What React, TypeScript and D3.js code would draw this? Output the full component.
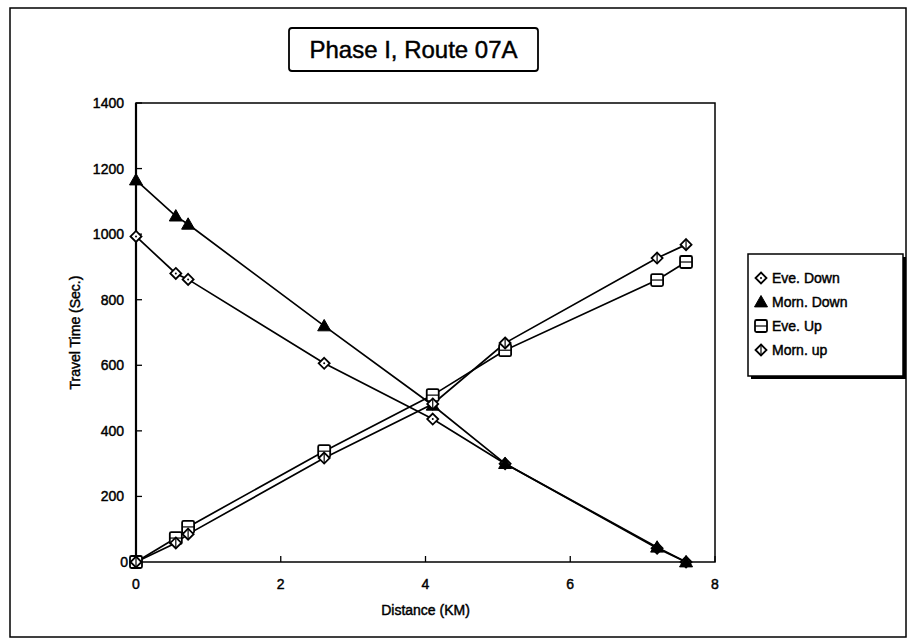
import React from "react";
import * as d3 from "d3";

const distances = [0, 0.55, 0.72, 2.6, 4.1, 5.1, 7.2, 7.6];
const eveDown = [993, 880, 862, 606, 436, 300, 42, 0];
const mornDown = [1165, 1055, 1030, 720, 478, 300, 45, 0];
const eveUp = [0, 73, 107, 338, 509, 646, 860, 915];
const mornUp = [0, 58, 85, 317, 482, 668, 927, 968];
const seriesNames = ["Eve. Down", "Morn. Down", "Eve. Up", "Morn. up"];
const xTicks = [0, 2, 4, 6, 8];
const yTicks = [0, 200, 400, 600, 800, 1000, 1200, 1400];
const title = "Phase I, Route 07A";
const xLabel = "Distance (KM)";
const yLabel = "Travel Time (Sec.)";

const W = 911;
const H = 642;
const plot = { left: 136, right: 715, top: 103, bottom: 562 };
const font = "'Liberation Sans', Arial, sans-serif";
const heavy = { stroke: "black", strokeWidth: 0.45 };

function Marker({ kind, x, y }: { kind: number; x: number; y: number }) {
  const s = 5.5;
  if (kind === 0) {
    return (
      <g>
        <path d={`M${x},${y - s}L${x + s},${y}L${x},${y + s}L${x - s},${y}Z`} fill="white" stroke="black" strokeWidth={1.8} />
        <circle cx={x} cy={y} r={1} fill="black" />
      </g>
    );
  }
  if (kind === 1) {
    const t = 6.5;
    return <path d={`M${x},${y - t}L${x + t},${y + t * 0.75}L${x - t},${y + t * 0.75}Z`} fill="black" stroke="black" strokeWidth={1} />;
  }
  if (kind === 2) {
    return (
      <g>
        <rect x={x - 6} y={y - 6} width={12} height={12} rx={1.5} fill="white" stroke="black" strokeWidth={1.8} />
        <line x1={x - 6} x2={x + 6} y1={y} y2={y} stroke="black" strokeWidth={1.2} />
      </g>
    );
  }
  return (
    <g>
      <path d={`M${x},${y - s}L${x + s},${y}L${x},${y + s}L${x - s},${y}Z`} fill="white" stroke="black" strokeWidth={1.8} />
      <line x1={x} x2={x} y1={y - s} y2={y + s} stroke="black" strokeWidth={1.2} />
    </g>
  );
}

export default function App() {
  const x = d3.scaleLinear().domain([0, 8]).range([plot.left, plot.right]);
  const y = d3.scaleLinear().domain([0, 1400]).range([plot.bottom, plot.top]);
  const allSeries = [eveDown, mornDown, eveUp, mornUp];
  const line = d3
    .line<[number, number]>()
    .x((d) => x(d[0]))
    .y((d) => y(d[1]));

  const legendX = 748;
  const legendY = 254;
  const legendRowH = 24;

  return (
    <svg
      width={W}
      height={H}
      style={{ position: "absolute", left: 0, top: 0, background: "white" }}
      fontFamily={font}
    >
      <rect x={0} y={0} width={W} height={H} fill="white" />
      <rect x={10} y={8} width={896} height={629} fill="none" stroke="black" strokeWidth={1.5} />

      {/* title */}
      <rect x={289} y={28} width={249} height={43} rx={3} fill="white" stroke="black" strokeWidth={1.8} />
      <text x={413.5} y={58} textAnchor="middle" fontSize={24} fill="black" {...heavy}>
        {title}
      </text>

      {/* plot frame */}
      <rect x={plot.left} y={plot.top} width={plot.right - plot.left} height={plot.bottom - plot.top} fill="none" stroke="black" strokeWidth={1.5} />
      <line x1={plot.left} x2={plot.left} y1={plot.top} y2={plot.bottom} stroke="black" strokeWidth={2.2} />

      {yTicks.map((t) => (
        <g key={"y" + t}>
          <line x1={plot.left} x2={plot.left + 6} y1={y(t)} y2={y(t)} stroke="black" strokeWidth={1.3} />
          <text x={plot.left - (t === 0 ? 8 : 12)} y={y(t) + 5} textAnchor="end" fontSize={14} fill="black" {...heavy}>
            {t}
          </text>
        </g>
      ))}
      {xTicks.map((t) => (
        <g key={"x" + t}>
          <line x1={x(t)} x2={x(t)} y1={plot.bottom} y2={plot.bottom - 6} stroke="black" strokeWidth={1.3} />
          <text x={x(t)} y={plot.bottom + 27} textAnchor="middle" fontSize={14} fill="black" {...heavy}>
            {t}
          </text>
        </g>
      ))}

      <text x={(plot.left + plot.right) / 2} y={615} textAnchor="middle" fontSize={14} fill="black" {...heavy}>
        {xLabel}
      </text>
      <text
        transform={`translate(80, ${(plot.top + plot.bottom) / 2}) rotate(-90)`}
        textAnchor="middle"
        fontSize={14}
        fill="black"
        {...heavy}
      >
        {yLabel}
      </text>

      {allSeries.map((vals, i) => (
        <path
          key={"l" + i}
          d={line(distances.map((d, j) => [d, vals[j]] as [number, number])) || ""}
          fill="none"
          stroke="black"
          strokeWidth={1.7}
        />
      ))}
      {allSeries.map((vals, i) => (
        <g key={"m" + i}>
          {distances.map((d, j) => (
            <Marker key={j} kind={i} x={x(d)} y={y(vals[j])} />
          ))}
        </g>
      ))}

      {/* legend */}
      <rect x={legendX + 3} y={legendY + 3} width={155} height={122} fill="black" />
      <rect x={legendX} y={legendY} width={155} height={122} fill="white" stroke="black" strokeWidth={1.5} />
      {seriesNames.map((name, i) => {
        const cy = legendY + 24 + i * legendRowH;
        return (
          <g key={"lg" + i}>
            <Marker kind={i} x={legendX + 13} y={cy} />
            <text x={legendX + 24} y={cy + 5} fontSize={14} fill="black" {...heavy}>
              {name}
            </text>
          </g>
        );
      })}
    </svg>
  );
}
